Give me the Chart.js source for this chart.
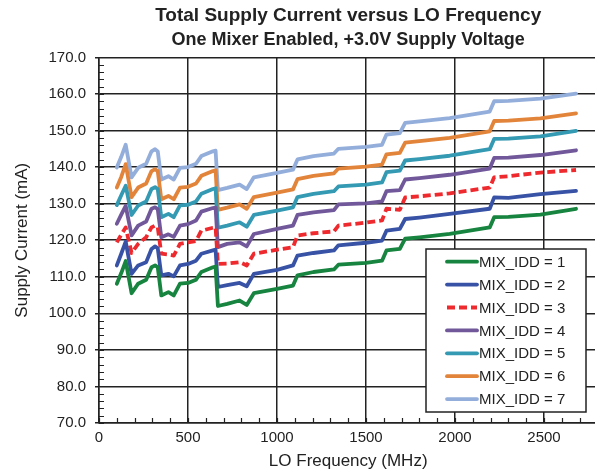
<!DOCTYPE html>
<html>
<head>
<meta charset="utf-8">
<script src="https://cdn.jsdelivr.net/npm/chart.js@4.4.1/dist/chart.umd.min.js"></script>
<style>
  html, body { margin: 0; padding: 0; background: #fff; overflow: hidden; }
  #wrap { width: 600px; height: 476px; }
</style>
</head>
<body>
<div id="wrap"><canvas id="myChart" width="600" height="476"></canvas></div>
<script>
// LO frequency sample points (MHz)
const freqMHz = [100, 125, 150, 183, 220, 265, 295, 315, 330, 350, 390, 420, 455, 500, 545, 575, 640, 655, 668, 720,
    790, 830, 870, 1000, 1090, 1115, 1205, 1320, 1345, 1500, 1590, 1615, 1690, 1720, 1800, 1970, 2195, 2220, 2300, 2480, 2680];

// supply current (mA) for each MIX_IDD setting
const mixIdd1 = [108.1, 111.0, 114.3, 105.5, 108.1, 109.2, 112.6, 113.1, 112.6, 104.9, 105.8, 104.9, 108.1, 108.3, 109.2, 111.3, 112.6, 112.8, 102.0, 102.6,
    103.5, 102.3, 105.5, 106.7, 107.6, 110.4, 111.3, 112.0, 113.3, 113.8, 114.4, 117.2, 117.6, 120.4, 120.8, 121.7, 123.5, 126.3, 126.4, 127.0, 128.6];
const mixIdd2 = [113.1, 116.3, 119.6, 110.8, 113.1, 114.0, 117.6, 118.3, 117.8, 110.4, 110.8, 110.1, 113.1, 113.5, 114.4, 116.3, 117.2, 117.4, 107.2, 107.7,
    108.3, 107.4, 110.8, 111.9, 113.1, 115.8, 116.5, 117.2, 118.6, 119.3, 119.9, 122.6, 123.1, 125.8, 126.2, 127.2, 128.6, 131.7, 131.6, 132.6, 133.5];
const mixIdd3 = [119.4, 121.5, 123.5, 116.5, 119.0, 120.8, 123.5, 124.0, 123.5, 116.3, 116.1, 115.8, 119.0, 119.4, 119.8, 122.6, 123.4, 123.5, 113.5, 113.6,
    114.0, 113.1, 116.3, 117.4, 118.1, 121.3, 121.9, 122.4, 124.0, 124.8, 125.4, 128.6, 128.3, 131.7, 132.0, 132.8, 134.4, 137.2, 137.5, 138.5, 139.2];
const mixIdd4 = [124.5, 127.0, 129.4, 121.3, 124.0, 125.1, 128.6, 129.0, 128.5, 120.8, 121.6, 120.9, 124.0, 124.4, 125.4, 127.8, 128.8, 128.9, 118.1, 119.0,
    119.4, 118.3, 121.7, 123.1, 124.0, 126.9, 127.6, 128.2, 129.8, 130.1, 130.6, 133.4, 133.7, 136.6, 137.0, 137.9, 139.6, 142.5, 142.6, 143.3, 144.6];
const mixIdd5 = [129.6, 132.3, 134.9, 126.9, 129.5, 130.6, 134.0, 134.5, 134.0, 126.3, 127.2, 126.3, 129.5, 129.7, 130.6, 132.7, 134.0, 134.2, 123.4, 124.0,
    124.9, 123.7, 126.9, 128.1, 129.0, 131.8, 132.7, 133.4, 134.7, 135.2, 135.8, 138.6, 139.0, 141.8, 142.2, 143.1, 144.9, 147.7, 147.8, 148.4, 149.9];
const mixIdd6 = [134.4, 137.3, 140.8, 131.8, 134.4, 135.5, 138.9, 139.4, 138.9, 131.2, 132.1, 131.2, 134.4, 134.6, 135.5, 137.6, 138.9, 139.1, 128.3, 128.9,
    129.8, 128.6, 131.8, 133.0, 133.9, 136.7, 137.6, 138.3, 139.6, 140.1, 140.7, 143.5, 143.9, 146.7, 147.1, 148.0, 149.8, 152.6, 152.7, 153.3, 154.7];
const mixIdd7 = [139.9, 142.8, 146.1, 137.2, 139.8, 140.9, 144.3, 144.9, 144.3, 136.6, 137.5, 136.6, 139.8, 140.0, 140.9, 143.0, 144.3, 144.5, 133.7, 134.3,
    135.2, 134.0, 137.2, 138.4, 139.3, 142.1, 143.0, 143.7, 145.0, 145.5, 146.1, 148.9, 149.3, 152.1, 152.5, 153.4, 155.2, 158.0, 158.1, 158.7, 160.1];

const seriesLabels = ['MIX_IDD = 1', 'MIX_IDD = 2', 'MIX_IDD = 3', 'MIX_IDD = 4', 'MIX_IDD = 5', 'MIX_IDD = 6', 'MIX_IDD = 7'];
const seriesValues = [mixIdd1, mixIdd2, mixIdd3, mixIdd4, mixIdd5, mixIdd6, mixIdd7];

// labelled ticks on the frequency axis
const freqTicks = [0, 500, 1000, 1500, 2000, 2500];

const lineColors = ['#17843f', '#3853a6', '#ee2a2e', '#71589a', '#3499b2', '#e3843b', '#94aedb'];
const inkColor = '#222';
const baseFont = '"Liberation Sans", Arial, sans-serif';

let datasets = seriesValues.map((vals, i) => ({
    label: seriesLabels[i],
    data: vals.map((v, j) => ({x: freqMHz[j], y: v})),
    borderColor: lineColors[i],
    borderWidth: 3.8,
    borderDash: i === 2 ? [8, 4] : [],
    borderCapStyle: i === 2 ? 'butt' : 'round',
    borderJoinStyle: 'round',
    tension: 0,
    pointRadius: 0,
    fill: false
}));

// small ticks between the major gridlines
const minorTicks = {
    id: 'minorTicks',
    afterDraw(chart) {
        const ctx = chart.ctx;
        const xs = chart.scales.x;
        const ys = chart.scales.y;
        const area = chart.chartArea;
        ctx.save();
        ctx.strokeStyle = inkColor;
        ctx.lineWidth = 1.2;
        ctx.beginPath();
        for (let v = 70; v <= 170; v += 2) {
            let y = Math.round(ys.getPixelForValue(v)) + 0.5;
            ctx.moveTo(area.left, y);
            ctx.lineTo(area.left + 5, y);
        }
        for (let v = 0; v <= 2800; v += 100) {
            let x = Math.round(xs.getPixelForValue(v)) + 0.5;
            ctx.moveTo(x, area.bottom);
            ctx.lineTo(x, area.bottom - 5);
        }
        ctx.stroke();
        ctx.restore();
    }
};

// boxed legend sitting inside the plot
const boxLegend = {
    id: 'boxLegend',
    afterDraw(chart, args, opts) {
        const ctx = chart.ctx;
        ctx.save();
        ctx.fillStyle = '#fff';
        ctx.fillRect(opts.left, opts.top, opts.width, opts.height);
        ctx.strokeStyle = inkColor;
        ctx.lineWidth = 1.5;
        ctx.strokeRect(opts.left, opts.top, opts.width, opts.height);
        ctx.font = '15px ' + baseFont;
        ctx.textBaseline = 'middle';
        chart.data.datasets.forEach((ds, i) => {
            let y = opts.top + opts.firstRow + i * opts.rowHeight;
            ctx.strokeStyle = ds.borderColor;
            ctx.lineWidth = ds.borderWidth;
            ctx.setLineDash(ds.borderDash);
            ctx.lineCap = ds.borderCapStyle;
            ctx.beginPath();
            ctx.moveTo(opts.left + 21, y);
            ctx.lineTo(opts.left + 51, y);
            ctx.stroke();
            ctx.setLineDash([]);
            ctx.fillStyle = inkColor;
            ctx.fillText(ds.label, opts.left + 53, y + 1);
        });
        ctx.restore();
    }
};

const ctx = document.getElementById('myChart').getContext('2d');

const myChart = new Chart(ctx, {
    type: 'line',
    data: {datasets: datasets},
    plugins: [minorTicks, boxLegend],
    options: {
        responsive: false,
        animation: false,
        layout: {padding: {left: 0, right: 2.6, top: 0, bottom: 0}},
        plugins: {
            legend: {display: false},
            tooltip: {enabled: false},
            title: {
                display: true,
                fullSize: false,
                text: 'Total Supply Current versus LO Frequency',
                color: inkColor,
                font: {family: baseFont, size: 19, weight: 'bold'},
                padding: {top: 4, bottom: 2}
            },
            subtitle: {
                display: true,
                fullSize: false,
                text: 'One Mixer Enabled, +3.0V Supply Voltage',
                color: inkColor,
                font: {family: baseFont, size: 18, weight: 'bold'},
                padding: {top: 0, bottom: 7}
            },
            boxLegend: {left: 426, top: 249, width: 160, height: 163, firstRow: 12.7, rowHeight: 22.9}
        },
        scales: {
            x: {
                type: 'linear',
                min: 0,
                max: 2800,
                afterBuildTicks: (scale) => { scale.ticks = freqTicks.map(v => ({value: v})); },
                afterFit: (scale) => { scale.height = 53; },
                border: {display: true, color: inkColor, width: 1.5},
                grid: {color: inkColor, lineWidth: 1.5, drawTicks: false},
                ticks: {
                    autoSkip: false,
                    maxRotation: 0,
                    padding: 6,
                    color: inkColor,
                    font: {family: baseFont, size: 15},
                    callback: (value) => String(value)
                },
                title: {
                    display: true,
                    text: 'LO Frequency (MHz)',
                    color: inkColor,
                    font: {family: baseFont, size: 17},
                    padding: {top: 0, bottom: 4}
                }
            },
            y: {
                min: 70,
                max: 170,
                afterFit: (scale) => { scale.width = 99; },
                border: {display: true, color: inkColor, width: 1.5},
                grid: {color: inkColor, lineWidth: 1.5, tickLength: 4},
                ticks: {
                    stepSize: 10,
                    padding: 9,
                    color: inkColor,
                    font: {family: baseFont, size: 15},
                    callback: (value) => value.toFixed(1)
                },
                title: {
                    display: true,
                    text: 'Supply Current (mA)',
                    color: inkColor,
                    font: {family: baseFont, size: 17},
                    padding: {top: 12, bottom: 0}
                }
            }
        }
    }
});
</script>
</body>
</html>
